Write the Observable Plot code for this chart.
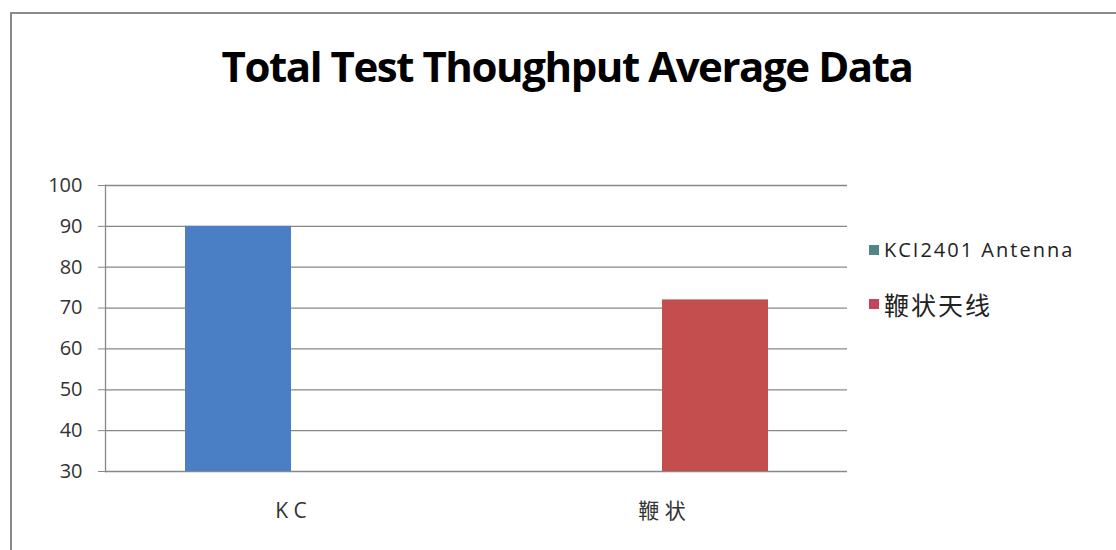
<!DOCTYPE html>
<html>
<head>
<meta charset="utf-8">
<script src="https://cdn.jsdelivr.net/npm/d3@7"></script>
<script src="https://cdn.jsdelivr.net/npm/@observablehq/plot@0.6"></script>
<style>
  html, body { margin: 0; padding: 0; background: #fff; }
  #wrap { position: relative; width: 1116px; height: 550px; overflow: hidden; background: #fff; }
  #border { position: absolute; left: 10px; top: 12px; width: 1200px; height: 600px; border-left: 2px solid #8a8a8a; border-top: 2px solid #8a8a8a; }
  #title { position: absolute; left: 0; width: 1134px; top: 37px; text-align: center; font-family: "Open Sans", sans-serif; font-weight: 700; font-size: 42px; letter-spacing: -1.45px; color: #000; white-space: nowrap; }
  #plot { position: absolute; left: 0; top: 0; }
  .leg { position: absolute; left: 869px; font-family: "Open Sans", "Noto Sans CJK SC", sans-serif; color: #222; display: flex; align-items: center; white-space: nowrap; }
  .leg span.sw { display: inline-block; width: 10px; height: 10px; margin-right: 5px; }
</style>
</head>
<body>
<div id="wrap">
  <div id="border"></div>
  <div id="plot"></div>
  <div id="title">Total Test Thoughput Average Data</div>
  <div id="legend"></div>
</div>
<script>
const categories = ["K C", "鞭 状"];
const seriesNames = ["KCI2401 Antenna", "鞭状天线"];
const seriesCategory = ["K C", "鞭 状"];
const seriesValues = [90, 72];
const yTicks = [30, 40, 50, 60, 70, 80, 90, 100];
const barColors = ["#4a7fc6", "#c44d4d"];
const legendColors = ["#4f8787", "#c2445f"];

const data = seriesNames.map((s, i) => ({series: s, category: seriesCategory[i], value: seriesValues[i]}));

const chart = Plot.plot({
  width: 1116,
  height: 550,
  marginLeft: 104,
  marginRight: 269,
  marginTop: 185,
  marginBottom: 79,
  style: {fontFamily: "'Open Sans', 'Noto Sans CJK SC', sans-serif", fontSize: "20px", color: "#333", background: "transparent"},
  fx: {domain: categories, padding: 0, label: null},
  x: {domain: seriesNames, paddingInner: 0, paddingOuter: 0.75, axis: null},
  y: {domain: [30, 100], label: null},
  color: {domain: seriesNames, range: barColors},
  marks: [
    Plot.ruleY(yTicks, {stroke: "#888", strokeWidth: 1.3, strokeOpacity: 1}),
    Plot.barY(data, {fx: "category", x: "series", y1: 30, y2: "value", fill: "series"}),
    Plot.axisY({ticks: yTicks, tickSize: 7, tickPadding: 16, stroke: "#888", tickFormat: d => d, fill: "#333", fontSize: 20, style: {letterSpacing: "1px"}}),
    Plot.frame({anchor: "left", facet: "super", stroke: "#888", strokeWidth: 1.3}),
    Plot.axisFx({anchor: "bottom", tickSize: 0, tickPadding: 32, fontSize: 21, fill: "#333"})
  ]
});
document.getElementById("plot").appendChild(chart);

const legend = document.getElementById("legend");
const legTops = [236, 286];
const legFont = ["font-size:20px;letter-spacing:2px", "font-size:25px;letter-spacing:2px"];
seriesNames.forEach((s, i) => {
  const d = document.createElement("div");
  d.className = "leg";
  d.style.top = legTops[i] + "px";
  d.innerHTML = `<span class="sw" style="background:${legendColors[i]}"></span><span style="${legFont[i]}">${s}</span>`;
  legend.appendChild(d);
});
</script>
</body>
</html>
